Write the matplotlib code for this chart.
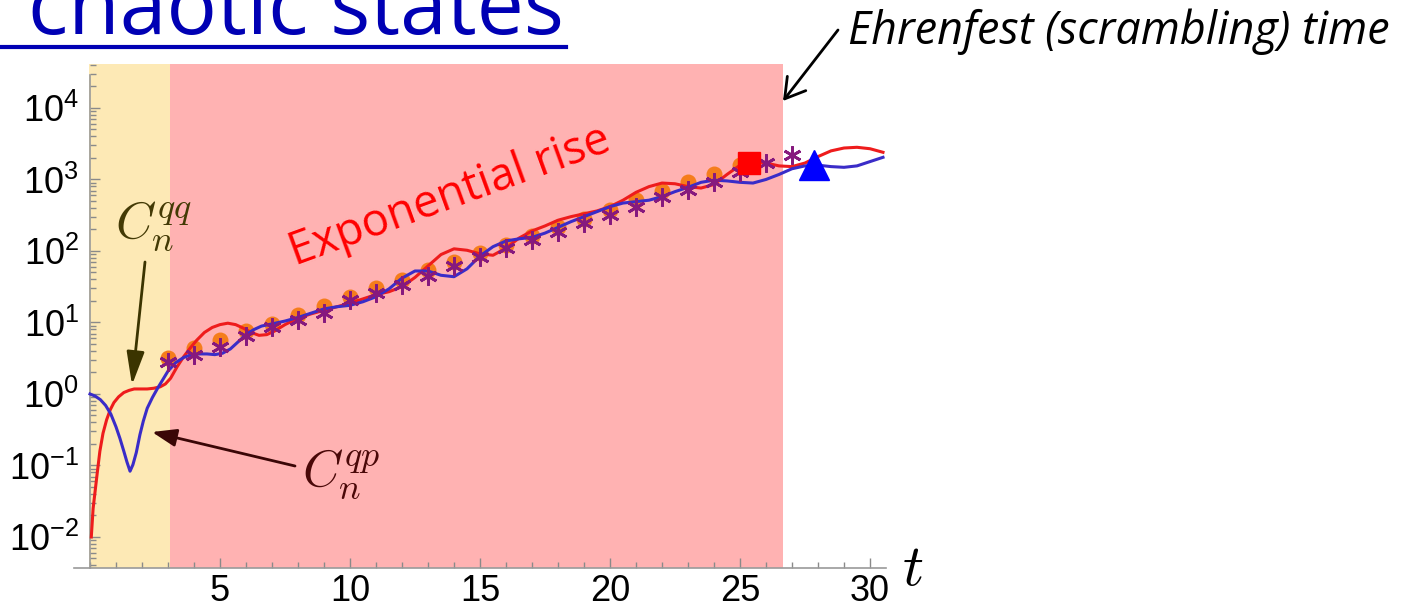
import numpy as np
import matplotlib
matplotlib.use('Agg')
import matplotlib.pyplot as plt
from matplotlib.lines import Line2D
from matplotlib.ticker import LogLocator, NullFormatter, MultipleLocator, FixedLocator

W, H = 1401, 608

# curves (log10 of the value)
t_qq = [0.05, 0.12, 0.2, 0.28, 0.38, 0.5, 0.64, 0.78, 0.92, 1.1, 1.3, 1.5, 1.7, 1.95,
        2.2, 2.45, 2.7, 2.9, 3.1, 3.35, 3.6, 3.85, 4.1, 4.4, 4.7, 5.0, 5.3, 5.6, 5.9,
        6.2, 6.5, 6.8, 7.1, 7.5, 8.0, 8.5, 9.0, 9.5, 10.0, 10.5, 11.0, 11.5, 12.0, 12.5,
        13.0, 13.5, 14.0, 14.5, 15.0, 15.5, 16.0, 16.5, 17.0, 17.5, 18.0, 18.5, 19.0,
        19.5, 20.0, 20.5, 21.0, 21.5, 22.0, 22.5, 23.0, 23.5, 24.0, 24.5, 25.0, 25.5,
        26.0, 26.5, 27.0, 27.5, 28.0, 28.5, 29.0, 29.5, 30.0, 30.5]
log_qq = [-2.0, -1.6, -1.35, -1.1, -0.8, -0.55, -0.36, -0.22, -0.12, -0.04, 0.02, 0.05,
          0.07, 0.07, 0.07, 0.08, 0.10, 0.14, 0.22, 0.38, 0.52, 0.64, 0.75, 0.86, 0.93,
          0.97, 0.99, 0.97, 0.92, 0.86, 0.82, 0.83, 0.88, 0.97, 1.06, 1.12, 1.17, 1.22,
          1.27, 1.33, 1.39, 1.43, 1.5, 1.63, 1.79, 1.95, 2.03, 2.01, 1.96, 1.94, 2.04,
          2.18, 2.28, 2.35, 2.43, 2.48, 2.52, 2.56, 2.62, 2.71, 2.82, 2.9, 2.95, 2.94,
          2.9, 2.88, 2.93, 3.07, 3.2, 3.26, 3.23, 3.19, 3.18, 3.23, 3.32, 3.4, 3.44,
          3.45, 3.43, 3.38]

t_qp = [0.0, 0.2, 0.4, 0.6, 0.8, 1.0, 1.15, 1.3, 1.42, 1.54, 1.65, 1.78, 1.92, 2.05,
        2.2, 2.4, 2.6, 2.8, 3.0, 3.3, 3.6, 3.9, 4.2, 4.5, 4.8, 5.1, 5.4, 5.7, 6.0, 6.3,
        6.6, 7.0, 7.5, 8.0, 8.5, 9.0, 9.5, 10.0, 10.5, 11.0, 11.5, 12.0, 12.5, 13.0,
        13.5, 14.0, 14.5, 15.0, 15.5, 16.0, 16.5, 17.0, 17.5, 18.0, 18.5, 19.0, 19.5,
        20.0, 20.5, 21.0, 21.5, 22.0, 22.5, 23.0, 23.5, 24.0, 24.5, 25.0, 25.5, 26.0,
        26.5, 27.0, 27.5, 28.0, 28.5, 29.0, 29.5, 30.0, 30.5]
log_qp = [0.0, -0.03, -0.08, -0.16, -0.28, -0.46, -0.62, -0.8, -0.95, -1.08, -0.99,
          -0.82, -0.57, -0.38, -0.2, -0.05, 0.08, 0.2, 0.32, 0.44, 0.51, 0.55, 0.56,
          0.56, 0.55, 0.57, 0.63, 0.73, 0.83, 0.9, 0.95, 0.98, 1.02, 1.07, 1.13, 1.19,
          1.22, 1.24, 1.29, 1.36, 1.47, 1.62, 1.72, 1.72, 1.66, 1.64, 1.75, 1.93, 2.06,
          2.14, 2.17, 2.19, 2.25, 2.33, 2.41, 2.48, 2.55, 2.62, 2.67, 2.69, 2.71, 2.76,
          2.83, 2.89, 2.96, 2.99, 2.98, 2.96, 2.95, 3.0, 3.07, 3.15, 3.19, 3.2, 3.18,
          3.17, 3.19, 3.25, 3.31]

t_circ = list(range(3, 26))
log_circ = [0.50, 0.64, 0.76, 0.88, 0.98, 1.10, 1.23, 1.36, 1.48, 1.60, 1.73, 1.85,
            1.97, 2.08, 2.21, 2.34, 2.45, 2.57, 2.71, 2.84, 2.96, 3.08, 3.20]

t_star = list(range(3, 28))
log_star = [0.45, 0.55, 0.66, 0.81, 0.94, 1.04, 1.13, 1.31, 1.41, 1.52, 1.65, 1.79,
            1.92, 2.04, 2.15, 2.27, 2.39, 2.50, 2.62, 2.76, 2.85, 2.97, 3.10, 3.23, 3.34]

square_t, square_v = 25.35, 1700
tri_t, tri_v = 27.85, 1590

yellow_span = (-0.05, 3.07)
pink_span = (3.07, 26.65)
x_ticks = [5, 10, 15, 20, 25, 30]
y_ticks = [1e-2, 1e-1, 1e0, 1e1, 1e2, 1e3, 1e4]

plt.rcParams['font.family'] = ['Liberation Sans', 'DejaVu Sans']
plt.rcParams['mathtext.fontset'] = 'custom'
plt.rcParams['mathtext.rm'] = 'Liberation Sans'
plt.rcParams['mathtext.it'] = 'Liberation Sans:italic'


def px(x, y):
    return (x / W, 1 - y / H)


fig = plt.figure(figsize=(W / 100, H / 100), dpi=100)
ax = fig.add_axes([74.4 / W, 40 / H, 811.2 / W, 504 / H])
ax.set_yscale('log')
ax.set_xlim(-0.6, 30.6)
ax.set_ylim(10 ** -2.434, 10 ** 4.615)

ax.axvspan(*yellow_span, color='#FDE9B5', lw=0, zorder=0)
ax.axvspan(*pink_span, color='#FFB2B2', lw=0, zorder=0)

ax.plot(t_circ, 10 ** np.array(log_circ), 'o', color='#F57D1C', ms=11.5, mec='none', zorder=2)
ax.plot(t_qq, 10 ** np.array(log_qq), color='#EE1C1C', lw=2.2, zorder=3, solid_joinstyle='round')
ax.plot(t_qp, 10 ** np.array(log_qp), color='#3A2CC8', lw=2.2, zorder=3, solid_joinstyle='round')
ax.plot(t_star, 10 ** np.array(log_star), marker=(6, 2, 0), ls='none', color='#86197E',
        ms=13, mew=2, zorder=4)
ax.plot([square_t], [square_v], 's', color='#FF0000', ms=16.5, zorder=5)
ax.plot([tri_t], [tri_v], '^', color='#0000FF', ms=22, zorder=5)

for s in ['top', 'right']:
    ax.spines[s].set_visible(False)
ax.spines['left'].set_position(('data', 0))
ax.spines['left'].set_bounds(10 ** -2.434, 10 ** 4.46)
for s in ['left', 'bottom']:
    ax.spines[s].set_color('#9a9a9a')
    ax.spines[s].set_linewidth(1.2)

ax.xaxis.set_major_locator(FixedLocator(x_ticks))
ax.xaxis.set_minor_locator(MultipleLocator(1))
ax.yaxis.set_major_locator(FixedLocator(y_ticks))
ax.yaxis.set_minor_locator(LogLocator(base=10, subs=np.arange(2, 10), numticks=20))
ax.yaxis.set_minor_formatter(NullFormatter())
ax.tick_params(which='both', direction='in', color='#8a8a8a', width=1, labelsize=26)
ax.tick_params(which='major', length=7)
ax.tick_params(which='minor', length=4)
ax.tick_params(axis='y', pad=8)
ax.tick_params(axis='x', pad=4)

r = fig.canvas.get_renderer()


def fit_width(txt, target):
    w = txt.get_window_extent(r).width
    txt.set_fontsize(txt.get_fontsize() * target / w)


title = fig.text(*px(28, 34), 'chaotic states', color='#0000B4', fontsize=48,
                 family='Open Sans', va='baseline')
fit_width(title, 536)
fig.add_artist(Line2D([0, 566 / W], [1 - 47 / H] * 2, color='#0000B4', lw=3))

ehr = fig.text(*px(848, 44), 'Ehrenfest (scrambling) time', style='italic',
               family='Open Sans', fontsize=24, va='baseline', color='black')
fit_width(ehr, 542)

expo = fig.text(*px(450, 197), 'Exponential rise', color='#FF0000', family='Open Sans',
                fontsize=28, ha='center', va='center', rotation_mode='anchor')
fit_width(expo, 338)
expo.set_rotation(20)

fig.text(*px(154, 226), r'$C_n^{qq}$', math_fontfamily='cm', fontsize=37,
         color='#433A05', ha='center', va='center')
fig.text(*px(341, 474), r'$C_n^{qp}$', math_fontfamily='cm', fontsize=37,
         color='#4A0808', ha='center', va='center')
fig.text(*px(913, 570), r'$t$', math_fontfamily='cm', fontsize=42,
         ha='center', va='center')

ax.annotate('', xy=px(132, 385), xytext=px(145, 262), xycoords='figure fraction',
            arrowprops=dict(arrowstyle='-|>,head_length=0.75,head_width=0.2',
                            mutation_scale=27, color='#3B3400', lw=2,
                            shrinkA=0, shrinkB=0))
ax.annotate('', xy=px(152, 432), xytext=px(295, 466), xycoords='figure fraction',
            arrowprops=dict(arrowstyle='-|>,head_length=0.55,head_width=0.2',
                            mutation_scale=27, color='#3A0606', lw=2,
                            shrinkA=0, shrinkB=0))
ax.annotate('', xy=px(783, 101), xytext=px(838, 30), xycoords='figure fraction',
            arrowprops=dict(arrowstyle='->,head_length=0.5,head_width=0.3',
                            mutation_scale=28, color='black', lw=2,
                            shrinkA=0, shrinkB=0))

fig.savefig('out.png', dpi=100)
